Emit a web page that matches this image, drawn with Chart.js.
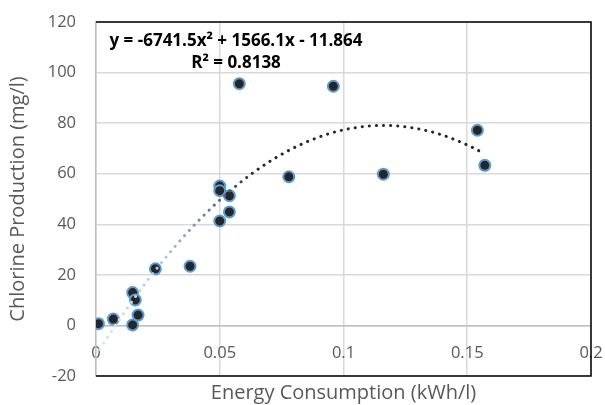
<!DOCTYPE html>
<html>
<head>
<meta charset="utf-8">
<script src="https://cdn.jsdelivr.net/npm/chart.js@4"></script>
<style>
  body { margin: 0; background: #fff; }
  #wrap { width: 605px; height: 405px; }
</style>
</head>
<body>
<div id="wrap"><canvas id="myChart"></canvas></div>
<script>
'use strict';

// measured values (kWh/l vs mg/l)
var energy = [0.001, 0.007, 0.0148, 0.0159, 0.017, 0.0148, 0.024, 0.038, 0.050, 0.050, 0.0539, 0.0539, 0.050, 0.0579, 0.0779, 0.0959, 0.1161, 0.1541, 0.1571];
var chlorine = [0.7, 2.5, 13, 10.1, 4.1, 0.2, 22.4, 23.4, 55.1, 53.3, 51.3, 44.9, 41.3, 95.6, 58.8, 94.6, 59.8, 77.2, 63.3];

// excel polynomial trendline: a*x^2 + b*x + c
var trendCoef = [-6741.5, 1566.1, -11.864];
var trendRange = [0, 0.157];
var trendLabel = ['y = -6741.5x\u00b2 + 1566.1x - 11.864', 'R\u00b2 = 0.8138'];

var xTicks = [0, 0.05, 0.1, 0.15, 0.2];
var yTicks = [-20, 0, 20, 40, 60, 80, 100, 120];

var points = energy.map(function(x, i) { return { x: x, y: chlorine[i] }; });

var trend = [];
for (var k = 0; k <= 60; k++) {
  var tx = trendRange[0] + (trendRange[1] - trendRange[0]) * k / 60;
  trend.push({ x: tx, y: trendCoef[0] * tx * tx + trendCoef[1] * tx + trendCoef[2] });
}

var FONT = 'Open Sans';
var GREY = '#595959';

// black frame on top, right and bottom like excel + trendline label
var frame = {
  id: 'frame',
  afterDraw: function(chart) {
    var a = chart.chartArea, c = chart.ctx;
    c.save();
    c.strokeStyle = '#000';
    c.lineWidth = 1.5;
    c.beginPath();
    c.moveTo(a.left, a.top);
    c.lineTo(a.right, a.top);
    c.lineTo(a.right, a.bottom);
    c.lineTo(a.left, a.bottom);
    c.stroke();
    c.fillStyle = '#000';
    c.font = 'bold 17px "' + FONT + '"';
    c.textAlign = 'center';
    c.textBaseline = 'middle';
    c.fillText(trendLabel[0], a.left + 140, a.top + 19);
    c.fillText(trendLabel[1], a.left + 140, a.top + 41);
    c.restore();
  }
};

// no extra room for half tick labels at the ends
function noPad(s) {
  s.paddingLeft = 0; s.paddingRight = 0; s.paddingTop = 0; s.paddingBottom = 0;
}

var ctx = document.getElementById('myChart').getContext('2d');
var chart = new Chart(ctx, {
  type: 'scatter',
  data: {
    datasets: [
      {
        label: 'Trend',
        data: trend,
        showLine: true,
        pointRadius: 0,
        borderWidth: 3,
        borderDash: [0.1, 7],
        borderCapStyle: 'round',
        borderColor: function(context) {
          var ch = context.chart;
          if (!ch.chartArea) return '#262626';
          var xs = ch.scales.x;
          var g = ch.ctx.createLinearGradient(xs.getPixelForValue(0), 0, xs.getPixelForValue(0.065), 0);
          g.addColorStop(0, '#dce9f6');
          g.addColorStop(0.45, '#a9c3de');
          g.addColorStop(1, '#262626');
          return g;
        },
        order: 0
      },
      {
        label: 'Data',
        data: points,
        pointRadius: 5.5,
        pointBorderWidth: 2,
        pointBackgroundColor: '#262626',
        pointBorderColor: '#5b9bd5',
        order: 1
      }
    ]
  },
  options: {
    responsive: true,
    maintainAspectRatio: false,
    animation: false,
    layout: { padding: { top: 22, right: 14, left: 0, bottom: 0 } },
    plugins: { legend: { display: false }, tooltip: { enabled: false } },
    scales: {
      x: {
        type: 'linear',
        position: { y: 0 },
        min: xTicks[0],
        max: xTicks[xTicks.length - 1],
        afterBuildTicks: function(s) { s.ticks = xTicks.map(function(v) { return { value: v }; }); },
        afterFit: noPad,
        grid: { color: '#d9d9d9', lineWidth: 1.5, drawTicks: false },
        border: { color: '#bfbfbf', width: 1.5 },
        ticks: { color: GREY, font: { family: FONT, size: 16.5 }, padding: 18, callback: function(v) { return String(v); } }
      },
      x2: {
        type: 'linear',
        position: 'bottom',
        grid: { display: false },
        border: { display: false },
        ticks: { display: false },
        afterFit: function(s) { noPad(s); s.height = 29; },
        title: { display: true, text: 'Energy Consumption (kWh/l)', color: GREY, font: { family: FONT, size: 20 }, padding: { top: 2, bottom: 0 } }
      },
      y: {
        type: 'linear',
        min: yTicks[0],
        max: yTicks[yTicks.length - 1],
        afterBuildTicks: function(s) { s.ticks = yTicks.map(function(v) { return { value: v }; }); },
        afterFit: function(s) { noPad(s); s.width = 96; },
        grid: { color: '#d9d9d9', lineWidth: 1.5, drawTicks: false },
        border: { color: '#bfbfbf', width: 1.5 },
        ticks: { color: GREY, font: { family: FONT, size: 16.5 }, padding: 20 },
        title: { display: true, text: 'Chlorine Production (mg/l)', color: GREY, font: { family: FONT, size: 20 }, padding: { top: 6, bottom: 0 } }
      }
    }
  },
  plugins: [frame]
});
</script>
</body>
</html>
